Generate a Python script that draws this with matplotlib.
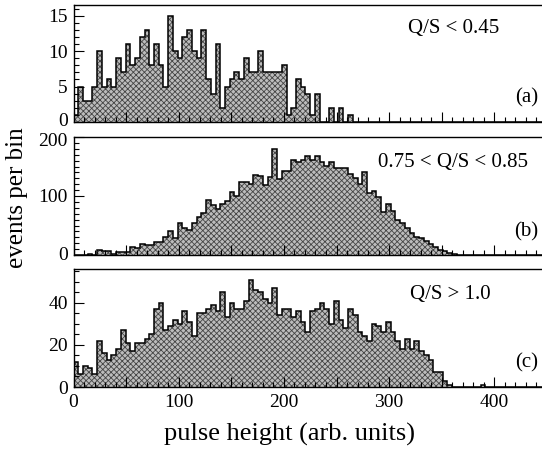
import numpy as np
import matplotlib
matplotlib.use("Agg")
import matplotlib.pyplot as plt
import matplotlib.transforms as mtransforms
from matplotlib.ticker import MultipleLocator, FuncFormatter

plt.rcParams['font.family'] = ['Liberation Serif', 'DejaVu Serif']
plt.rcParams['hatch.color'] = '#454545'
plt.rcParams['hatch.linewidth'] = 0.6

# ---- data ----
bin_width = 4.5
n_bins = 100

counts_a = [1, 5, 3, 3, 5, 10, 5, 6, 5, 9,
            7, 11, 8, 9, 12, 13, 8, 11, 8, 5,
            15, 10, 9, 12, 13, 10, 9, 13, 6, 4,
            11, 2, 5, 6, 7, 6, 9, 7, 7, 10,
            7, 7, 7, 7, 8, 1, 2, 6, 5, 4,
            1, 4, 0, 0, 2, 0, 2, 0, 1, 0,
            0, 0, 0, 0, 0, 0, 0, 0, 0, 0,
            0, 0, 0, 0, 0, 0, 0, 0, 0, 0,
            0, 0, 0, 0, 0, 0, 0, 0, 0, 0,
            0, 0, 0, 0, 0, 0, 0, 0, 0, 0]

counts_b = [0, 0, 0, 1, 0, 8, 6, 6, 1, 5,
            5, 5, 14, 12, 19, 17, 17, 22, 22, 31,
            40, 28, 54, 46, 42, 55, 65, 71, 93, 85,
            78, 86, 92, 107, 100, 123, 124, 120, 136, 134,
            119, 133, 180, 128, 143, 143, 161, 157, 161, 167,
            161, 168, 158, 151, 157, 147, 147, 147, 138, 130,
            120, 141, 105, 109, 99, 73, 86, 75, 60, 55,
            45, 38, 31, 28, 23, 18, 14, 8, 6, 3,
            2, 0, 0, 0, 0, 0, 0, 0, 0, 0,
            0, 0, 0, 0, 0, 0, 0, 0, 0, 0]

counts_c = [12, 6, 10, 9, 6, 22, 16, 13, 15, 18,
            27, 21, 17, 21, 21, 23, 25, 37, 40, 27,
            29, 32, 30, 36, 31, 24, 35, 35, 37, 39,
            36, 45, 33, 40, 37, 37, 41, 51, 46, 45,
            42, 40, 47, 34, 37, 37, 33, 36, 31, 26,
            36, 37, 40, 37, 30, 41, 32, 28, 37, 34,
            26, 24, 22, 30, 29, 26, 31, 26, 22, 18,
            23, 18, 22, 17, 15, 13, 7, 7, 3, 1,
            0, 0, 0, 0, 0, 0, 1, 0, 0, 0,
            0, 0, 0, 0, 0, 0, 0, 0, 0, 0]

panel_labels = ['(a)', '(b)', '(c)']
cut_labels = ['Q/S < 0.45', '0.75 < Q/S < 0.85', 'Q/S > 1.0']
y_limits = [16.5, 200, 56]
y_major = [5, 100, 20]
y_minor = [1, 10, 5]
x_tick_labels = [0, 100, 200, 300, 400]

edges = np.arange(n_bins + 1) * bin_width

# ---- figure ----
W, H = 542, 450
fig = plt.figure(figsize=(W / 100, H / 100), dpi=100)

left_px = 73.5
width_px = 450 * 1.052
panels_px = [(5, 122), (137, 255), (269, 387)]
cut_pos = [(0.707, 0.80), (0.643, 0.78), (0.711, 0.78)]
lab_pos = [(0.981, 0.205), (0.981, 0.195), (0.981, 0.203)]

axes = []
for i, (counts, (top, bot)) in enumerate(zip([counts_a, counts_b, counts_c], panels_px)):
    ax = fig.add_axes([left_px / W, (H - bot) / H, width_px / W, (bot - top) / H])
    axes.append(ax)
    ax.stairs(counts, edges, fill=True, facecolor='#bcbcbc', edgecolor='#454545',
              hatch='xxxxxx', linewidth=0)
    ax.stairs(counts, edges, fill=False, color='black', linewidth=1.1, baseline=None)
    ax.set_xlim(0, 450)
    ax.set_ylim(0, y_limits[i])
    ax.xaxis.set_major_locator(MultipleLocator(50))
    ax.xaxis.set_minor_locator(MultipleLocator(10))
    ax.yaxis.set_major_locator(MultipleLocator(y_major[i]))
    ax.yaxis.set_minor_locator(MultipleLocator(y_minor[i]))
    ax.tick_params(which='both', direction='in', top=False, right=False,
                   labelsize=14, width=0.8)
    ax.tick_params(which='major', length=7)
    ax.tick_params(which='minor', length=3.5)
    ax.tick_params(axis='y', pad=4)
    ax.tick_params(axis='x', pad=5)
    for s in ax.spines.values():
        s.set_linewidth(1.0)
    if i < 2:
        ax.tick_params(axis='x', labelbottom=False)
    else:
        ax.xaxis.set_major_formatter(FuncFormatter(
            lambda v, p: f"{int(round(v))}" if int(round(v)) in x_tick_labels else ""))
    ax.text(cut_pos[i][0], cut_pos[i][1], cut_labels[i], transform=ax.transAxes,
            ha='left', va='center', fontsize=15)
    ax.text(lab_pos[i][0], lab_pos[i][1], panel_labels[i], transform=ax.transAxes,
            ha='right', va='center', fontsize=15)

# nudge neighbouring tick labels apart slightly where panels meet
def nudge(ax, loc, dy_px):
    ticks = ax.yaxis.get_major_ticks()
    locs = ax.yaxis.get_majorticklocs()
    for t, l in zip(ticks, locs):
        if abs(l - loc) < 1e-9:
            off = mtransforms.ScaledTranslation(0, dy_px / 100, fig.dpi_scale_trans)
            t.label1.set_transform(t.label1.get_transform() + off)

nudge(axes[0], 0, 2)
nudge(axes[1], 200, -3)
nudge(axes[1], 0, 2)
nudge(axes[2], 40, 0)

fig.text(17 / W, 1 - 198 / H, 'events per bin', rotation=90, ha='center', va='center',
         fontsize=18)
fig.text(289 / W, 1 - 434 / H, 'pulse height (arb. units)', ha='center', va='center',
         fontsize=19)

fig.savefig('out.png', dpi=100)
